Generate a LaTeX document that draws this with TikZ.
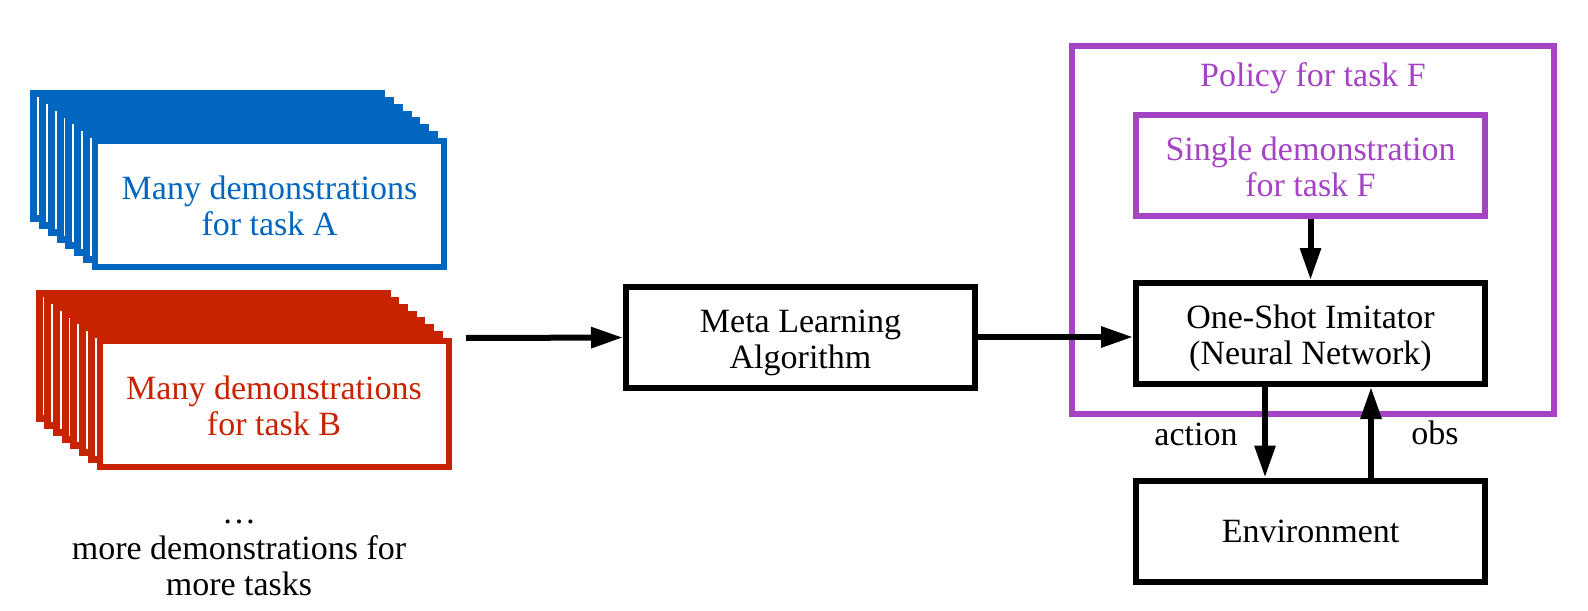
\documentclass[tikz,border=0pt]{standalone}
\usepackage{fontspec}
\setmainfont{Liberation Serif}
\usetikzlibrary{arrows.meta}
\definecolor{demoblue}{RGB}{0,102,192}
\definecolor{demored}{RGB}{200,35,0}
\definecolor{policypurple}{RGB}{164,68,196}
\newcommand{\twolines}[2]{\rule{0pt}{17pt}#1\\#2\rule[-4pt]{0pt}{4pt}}

\begin{document}
\begin{tikzpicture}[x=0.5pt, y=-0.5pt,
        every node/.style={font=\fontsize{17}{18}\selectfont, align=center},
        box/.style={draw, line width=3pt, fill=white, inner sep=0pt,
            minimum width=174.5pt, minimum height=50.5pt},
        demobox/.style={box, minimum height=63pt},
        backbox/.style={demobox, line width=3.5pt, minimum width=174pt, minimum height=62.5pt},
        arr/.style={line width=3pt, -{Triangle[length=16pt, width=10pt]}}]
            \useasboundingbox (0, 0) rectangle (1588, 610);

            % stacks of demonstrations
            \foreach \k in {7,...,1}
                \node[backbox, draw=demoblue] (stackA\k) at (269.5-8.86*\k, 204-6.86*\k) {};
            \node[demobox, draw=demoblue, text=demoblue] (demoA) at (269.5, 204) {\twolines{Many demonstrations}{for task A}};
            \foreach \k in {7,...,1}
                \node[backbox, draw=demored] (stackB\k) at (274-8.71*\k, 404-6.86*\k) {};
            \node[demobox, draw=demored, text=demored] (demoB) at (274, 404) {\twolines{Many demonstrations}{for task B}};
            \node (more) at (239, 547) {\strut\dots\\more demonstrations for\\more tasks};
            \coordinate (demoout) at (466, 338);

            \node[box] (meta) at (800.5, 337) {\twolines{Meta Learning}{Algorithm}};

            % policy
            \node[draw=policypurple, line width=3pt, inner sep=0pt,
                minimum width=241pt, minimum height=184pt] (policy) at (1313, 230) {};
            \node[anchor=base, text=policypurple] (policylabel) at (1313, 87) {Policy for task F};
            \node[box, draw=policypurple, text=policypurple] (single) at (1310.5, 165.5) {\twolines{Single demonstration}{for task F}};
            \node[box] (oneshot) at (1310.5, 333.5) {\twolines{One-Shot Imitator}{(Neural Network)}};
            \node[box] (env) at (1310.5, 531) {Environment};

            \draw[arr] (demoout) -- (meta);
            \draw[arr] (meta.east) -- (meta.east -| oneshot.west);
            \draw[arr] (single) -- (oneshot);
            \draw[arr] ([xshift=-22.75pt]oneshot.south) -- ([xshift=-22.75pt]env.north);
            \draw[arr] ([xshift=30.25pt]env.north) -- ([xshift=30.25pt]oneshot.south);
            \node[anchor=base] (action) at (1196, 445) {action};
            \node[anchor=base] (obs) at (1435, 444) {obs};
        \end{tikzpicture}
\end{document}
